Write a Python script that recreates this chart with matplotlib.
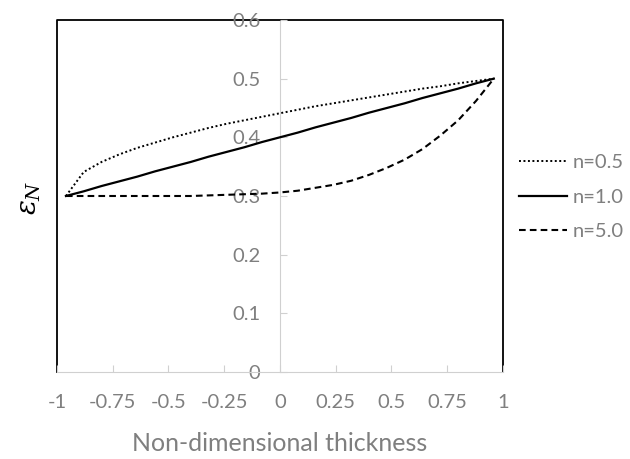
import matplotlib.pyplot as plt

plt.rcParams['font.family'] = ['Lato', 'DejaVu Sans']
plt.rcParams['mathtext.fontset'] = 'dejavuserif'

# through-thickness coordinate
x = [-0.96, -0.88, -0.80, -0.72, -0.64, -0.56, -0.48, -0.40, -0.32, -0.24,
     -0.16, -0.08, 0.00, 0.08, 0.16, 0.24, 0.32, 0.40, 0.48, 0.56,
     0.64, 0.72, 0.80, 0.88, 0.96]

eps_n05 = [0.300, 0.341, 0.358, 0.371, 0.382, 0.391, 0.400, 0.408, 0.416, 0.423,
           0.429, 0.435, 0.441, 0.447, 0.453, 0.458, 0.463, 0.468, 0.473, 0.478,
           0.483, 0.487, 0.492, 0.496, 0.500]
eps_n10 = [0.300, 0.308, 0.317, 0.325, 0.333, 0.342, 0.350, 0.358, 0.367, 0.375,
           0.383, 0.392, 0.400, 0.408, 0.417, 0.425, 0.433, 0.442, 0.450, 0.458,
           0.467, 0.475, 0.483, 0.492, 0.500]
eps_n50 = [0.300, 0.300, 0.300, 0.300, 0.300, 0.300, 0.300, 0.300, 0.301, 0.302,
           0.303, 0.304, 0.306, 0.309, 0.314, 0.319, 0.326, 0.336, 0.348, 0.362,
           0.380, 0.403, 0.429, 0.462, 0.500]

labels = ['n=0.5', 'n=1.0', 'n=5.0']
xticks = [-1, -0.75, -0.5, -0.25, 0, 0.25, 0.5, 0.75, 1]
xticklabels = ['-1', '-0.75', '-0.5', '-0.25', '0', '0.25', '0.5', '0.75', '1']
yticks = [0, 0.1, 0.2, 0.3, 0.4, 0.5, 0.6]
yticklabels = ['0', '0.1', '0.2', '0.3', '0.4', '0.5', '0.6']

grey = '#7f7f7f'
axgrey = '#d0d0d0'

fig = plt.figure(figsize=(6.3, 4.59), dpi=100)
ax = fig.add_axes([0.0905, 0.1895, 0.7075, 0.767])

ax.plot(x, eps_n05, color='black', lw=1.4, ls=(0, (1, 1.3)), label=labels[0])
ax.plot(x, eps_n10, color='black', lw=1.6, ls='-', label=labels[1])
ax.plot(x, eps_n50, color='black', lw=1.5, ls=(0, (3.2, 2)), label=labels[2])

ax.set_xlim(-1, 1)
ax.set_ylim(0, 0.6)

# y axis sits at x=0, light grey
ax.spines['left'].set_position(('data', 0))
ax.spines['left'].set_color(axgrey)
ax.spines['left'].set_zorder(0)
ax.spines['bottom'].set_color(axgrey)
ax.spines['top'].set_visible(False)
ax.spines['right'].set_visible(False)

# black frame on left, top, right
ax.plot([0, 0, 1, 1], [0, 1, 1, 0], transform=ax.transAxes, color='black',
        lw=1.3, clip_on=False, zorder=1)

ax.set_xticks(xticks)
ax.set_xticklabels(xticklabels)
ax.set_yticks(yticks)
ax.set_yticklabels(yticklabels)
ax.tick_params(axis='x', direction='in', length=5, color=axgrey, pad=16,
               labelsize=14.5, labelcolor=grey)
ax.tick_params(axis='y', direction='in', length=5, color=axgrey, pad=14,
               labelsize=14.5, labelcolor=grey)
for t in ax.get_yticklabels():
    t.set_zorder(5)

ax.set_xlabel('Non-dimensional thickness', fontsize=18, color=grey, labelpad=15)
fig.text(0.048, 0.57, r'$\varepsilon_N$', rotation=90, fontsize=20,
         ha='center', va='center')

ax.legend(loc='center left', bbox_to_anchor=(0.995, 0.497), frameon=False,
          fontsize=14.5, labelcolor=grey, handlelength=2.4, handletextpad=0.3,
          labelspacing=0.85)

fig.savefig('out.png', dpi=100)
